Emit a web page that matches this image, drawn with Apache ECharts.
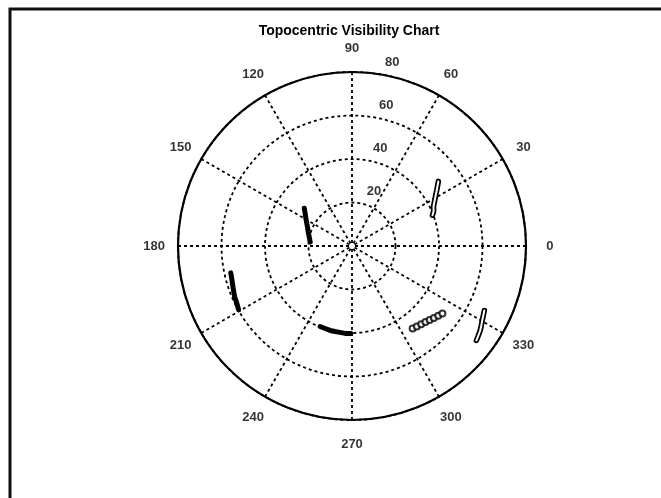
<!DOCTYPE html>
<html>
<head>
<meta charset="utf-8">
<title>Topocentric Visibility Chart</title>
<script src="https://cdn.jsdelivr.net/npm/echarts@6/dist/echarts.min.js"></script>
<style>
  html, body { margin: 0; padding: 0; background: #fff; }
  #chart { width: 661px; height: 498px; }
</style>
</head>
<body>
<div id="chart"></div>
<script>
// all points are [radius, angle in degrees]
const chartTitle = 'Topocentric Visibility Chart'
const radiusTicks = [20, 40, 60, 80]
const angleTicks = [0, 30, 60, 90, 120, 150, 180, 210, 240, 270, 300, 330]

// satellite passes
const passA = [[49.6, 36.8], [47.9, 34.9], [46.3, 32.9], [44.7, 30.8], [43.2, 28.5], [41.7, 26.0], [40.8, 23.1], [39.6, 20.9]]
const passB = [[28.0, 141.6], [26.0, 145.8], [24.2, 150.5], [22.5, 156.0], [21.1, 162.4], [20.1, 168.2], [19.3, 174.6]]
const passC = [[57.1, 192.5], [57.3, 195.3], [57.7, 198.0], [58.2, 200.7], [58.8, 203.4], [59.1, 206.2], [59.8, 209.3]]
const passD = [[39.8, 248.4], [39.9, 252.0], [40.1, 255.5], [40.1, 258.8], [40.1, 262.1], [40.3, 265.5], [40.2, 269.3]]
const passE = [[47.1, 306.3], [47.5, 308.9], [48.0, 311.5], [48.6, 314.0], [49.3, 316.4], [50.1, 318.7], [51.0, 321.0], [51.9, 323.2]]
const passF = [[67.7, 334.0], [68.3, 332.1], [69.0, 330.2], [69.8, 328.4], [70.6, 326.6], [71.2, 324.7], [71.8, 322.8]]

const FONT = '"Liberation Sans", Arial, sans-serif'
const labelR = 91        // angle labels sit just outside the outer ring
const ringLabelAngle = 82
const dotted = { color: '#000', width: 1.8, type: [3, 3] }

function solidPass (data, width) {
  return {
    type: 'line', coordinateSystem: 'polar', data: data,
    symbol: 'none', silent: true, z: 4,
    lineStyle: { color: '#000', width: width, cap: 'round', join: 'round' }
  }
}

// hollow look: black stroke with a thin white core
function hollowPass (data) {
  let outer = solidPass(data, 5.5)
  let inner = solidPass(data, 2)
  inner.lineStyle.color = '#fff'
  inner.z = 5
  return [outer, inner]
}

const chart = echarts.init(document.getElementById('chart'), null, { renderer: 'canvas' })

const option = {
  animation: false,
  backgroundColor: '#fff',
  title: {
    text: chartTitle,
    left: 349,
    top: 24,
    padding: 0,
    textAlign: 'center',
    textStyle: { fontSize: 14, fontWeight: 'bold', color: '#000', fontFamily: FONT }
  },
  graphic: [{
    type: 'polyline',
    silent: true,
    shape: { points: [[10, 498], [10, 9], [661, 9]] },
    style: { stroke: '#111', lineWidth: 3, fill: 'none' }
  }],
  polar: { center: [352, 246], radius: 174 },
  angleAxis: {
    type: 'value', min: 0, max: 360, interval: 30,
    startAngle: 0, clockwise: false,
    axisLine: { show: true, lineStyle: { color: '#000', width: 2.2 } },
    axisTick: { show: false },
    axisLabel: { show: false },
    splitLine: { show: true, lineStyle: dotted }
  },
  radiusAxis: {
    type: 'value', min: 0, max: 80, interval: 20,
    axisLine: { show: false },
    axisTick: { show: false },
    axisLabel: { show: false },
    splitLine: { show: true, lineStyle: dotted }
  },
  series: [
    ...hollowPass(passA),
    solidPass(passB, 5),
    solidPass(passC, 5),
    solidPass(passD, 5),
    {
      type: 'scatter', coordinateSystem: 'polar', data: passE,
      symbol: 'emptyCircle', symbolSize: 6, silent: true, z: 4,
      itemStyle: { color: '#000', borderColor: '#000', borderWidth: 1.6 }
    },
    ...hollowPass(passF),
    {
      // angle labels
      type: 'scatter', coordinateSystem: 'polar', clip: false, silent: true,
      symbolSize: 1, itemStyle: { color: 'transparent' },
      data: angleTicks.map(a => ({ name: String(a), value: [labelR, a] })),
      label: {
        show: true, position: 'inside', formatter: '{b}',
        color: '#000', fontSize: 13, fontWeight: 'bold', fontFamily: FONT
      }
    },
    {
      // ring labels
      type: 'scatter', coordinateSystem: 'polar', clip: false, silent: true,
      symbolSize: 1, itemStyle: { color: 'transparent' },
      data: radiusTicks.map(t => ({ name: String(t), value: [t + 1, ringLabelAngle] })),
      label: {
        show: true, position: [9, -2], align: 'left', verticalAlign: 'bottom',
        formatter: '{b}', color: '#000', fontSize: 13, fontWeight: 'bold', fontFamily: FONT
      }
    }
  ]
}

chart.setOption(option)
</script>
</body>
</html>
